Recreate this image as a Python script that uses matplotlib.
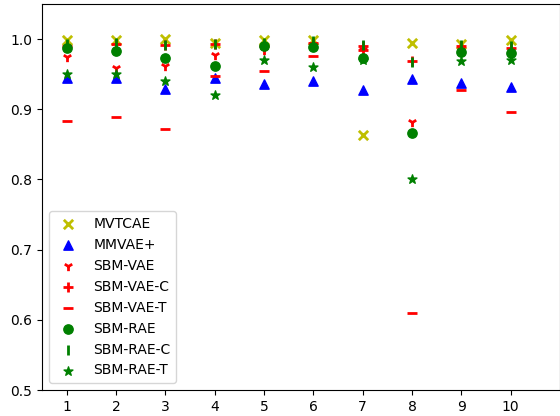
import matplotlib
matplotlib.use('Agg')
import matplotlib.pyplot as plt

x = [1, 2, 3, 4, 5, 6, 7, 8, 9, 10]

mvtcae    = [0.998, 0.998, 1.000, 0.995, 0.998, 0.998, 0.863, 0.994, 0.993, 0.998]
mmvae     = [0.945, 0.945, 0.929, 0.945, 0.936, 0.940, 0.928, 0.943, 0.937, 0.932]
sbm_vae   = [0.974, 0.959, 0.962, 0.977, 0.985, 0.990, 0.985, 0.882, 0.985, 0.980]
sbm_vae_c = [0.990, 0.993, 0.991, 0.993, 0.990, 0.995, 0.990, 0.969, 0.990, 0.987]
sbm_vae_t = [0.883, 0.889, 0.872, 0.947, 0.955, 0.976, 0.985, 0.610, 0.928, 0.896]
sbm_rae   = [0.987, 0.983, 0.973, 0.961, 0.990, 0.988, 0.973, 0.866, 0.982, 0.980]
sbm_rae_c = [0.993, 0.995, 0.992, 0.993, 0.995, 0.997, 0.991, 0.967, 0.992, 0.990]
sbm_rae_t = [0.950, 0.950, 0.940, 0.920, 0.970, 0.960, 0.970, 0.800, 0.969, 0.970]

series = [
    ('MVTCAE', mvtcae, 'x', 'y'),
    ('MMVAE+', mmvae, '^', 'b'),
    ('SBM-VAE', sbm_vae, '1', 'r'),
    ('SBM-VAE-C', sbm_vae_c, '+', 'r'),
    ('SBM-VAE-T', sbm_vae_t, '_', 'r'),
    ('SBM-RAE', sbm_rae, 'o', 'g'),
    ('SBM-RAE-C', sbm_rae_c, '|', 'g'),
    ('SBM-RAE-T', sbm_rae_t, '*', 'g'),
]

fig = plt.figure(figsize=(5.6, 4.16), dpi=100)
ax = fig.add_axes([0.075, 0.0625, 0.925, 0.928])
for name, vals, m, c in series:
    ax.scatter(x, vals, marker=m, c=c, s=45, label=name, linewidths=2 if m in 'x1+_|' else None)

ax.set_xticks(x)
ax.set_xlim(0.5, 11)
ax.set_ylim(0.5, 1.05)
ax.legend(loc='lower left')
plt.savefig('out.png')
